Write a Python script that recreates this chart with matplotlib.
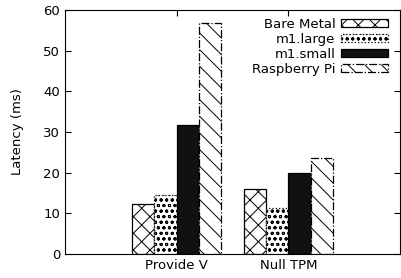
import numpy as np
import matplotlib.pyplot as plt

plt.rcParams['font.family'] = ['DejaVu Sans']
plt.rcParams['hatch.linewidth'] = 0.7

# chart data
categories = ['Provide V', 'Null TPM']
series = ['Bare Metal', 'm1.large', 'm1.small', 'Raspberry Pi']
bare_metal = [12.3, 16.1]
m1_large = [14.6, 11.3]
m1_small = [31.8, 19.8]
raspberry_pi = [56.7, 23.7]
values = [bare_metal, m1_large, m1_small, raspberry_pi]

styles = [
    dict(facecolor='white', hatch='xx', linestyle='-'),
    dict(facecolor='white', hatch='ooo', linestyle=':'),
    dict(facecolor='#111111', hatch=None, linestyle='-'),
    dict(facecolor='white', hatch='\\\\', linestyle='-.'),
]

fig = plt.figure(figsize=(4.02, 2.78), dpi=100)
ax = fig.add_axes([65 / 402, 24 / 278, 335 / 402, 244 / 278])

x = np.arange(1, len(categories) + 1)
width = 0.2
for i, (name, vals, st) in enumerate(zip(series, values, styles)):
    ax.bar(x + (i - 1.5) * width, vals, width, label=name,
           facecolor=st['facecolor'], edgecolor='black', hatch=st['hatch'],
           linestyle=st['linestyle'], linewidth=0.9)

ax.set_xlim(0, 3)
ax.set_ylim(0, 60)
ax.set_xticks(x)
ax.set_xticklabels(categories)
ax.set_yticks(np.arange(0, 61, 10))
ax.tick_params(direction='in', top=True, right=True, labelsize=9.5, length=4)
ax.set_ylabel('Latency (ms)', fontsize=9.5, labelpad=14)

ax.legend(loc='upper right', bbox_to_anchor=(1 - 6 / 335, 1 - 2 / 244),
          frameon=False, markerfirst=False, fontsize=9.5,
          handlelength=3.6, handleheight=0.6, labelspacing=0.15,
          borderaxespad=0.15, handletextpad=0.4, borderpad=0.3)

fig.savefig('out.png', dpi=100)
